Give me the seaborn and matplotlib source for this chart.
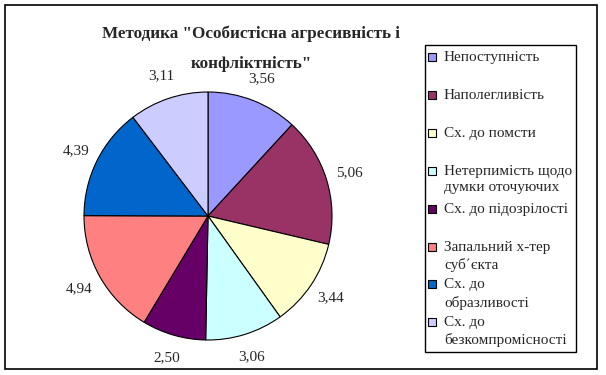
import matplotlib
matplotlib.use("Agg")
import matplotlib.pyplot as plt
import seaborn as sns
from matplotlib.patches import Rectangle

sns.set_style("white")
plt.rcParams['font.family'] = ['Liberation Serif', 'DejaVu Serif']

categories = ["Непоступність", "Наполегливість", "Сх. до помсти",
              "Нетерпимість щодо\nдумки оточуючих", "Сх. до підозрілості",
              "Запальний х-тер\nсуб΄єкта", "Сх. до\nобразливості",
              "Сх. до\nбезкомпромісності"]
values = [3.56, 5.06, 3.44, 3.06, 2.50, 4.94, 4.39, 3.11]
colors = ["#9999FF", "#993366", "#FFFFCC", "#CCFFFF",
          "#660066", "#FF8080", "#0066CC", "#CCCCFF"]
title_lines = ['Методика "Особистісна агресивність і', 'конфліктність"']

W, H = 606, 375
fig = plt.figure(figsize=(W / 100, H / 100), dpi=100)
fig.patch.set_facecolor("white")

# outer frame
fig.patches.append(Rectangle((5 / W, 1 - 369 / H), 592 / W, 364 / H,
                             transform=fig.transFigure, fill=False,
                             edgecolor="black", linewidth=1.2))

# title, one text per line
for j, line in enumerate(title_lines):
    fig.text(251 / W, 1 - (34 + j * 29.5) / H, line, ha="center", va="center",
             fontsize=12.3, fontweight="bold")

# pie
cx, cy, r = 208, 216, 124
ax = fig.add_axes([(cx - r) / W, 1 - (cy + r) / H, 2 * r / W, 2 * r / H])
labels = [f"{v:.2f}".replace(".", ",") for v in values]
wedges, texts = ax.pie(values, colors=colors, startangle=90, counterclock=False,
                       labels=labels, labeldistance=1.19,
                       wedgeprops=dict(edgecolor="black", linewidth=0.8),
                       textprops=dict(fontsize=11))
for t in texts:
    t.set_ha("center")
    t.set_va("center")
ax.set_xlim(-1, 1)
ax.set_ylim(-1, 1)
ax.set_aspect("auto")
ax.axis("off")

# legend box
lx0, ly0, lx1, ly1 = 425, 45, 576, 352
fig.patches.append(Rectangle((lx0 / W, 1 - ly1 / H), (lx1 - lx0) / W, (ly1 - ly0) / H,
                             transform=fig.transFigure, fill=False,
                             edgecolor="black", linewidth=1.0))
for i, (lab, c) in enumerate(zip(categories, colors)):
    y = 57 + i * 37.9
    fig.patches.append(Rectangle((428 / W, 1 - (y + 4) / H), 8 / W, 8 / H,
                                 transform=fig.transFigure, facecolor=c,
                                 edgecolor="black", linewidth=0.8))
    fig.text(444 / W, 1 - (y - 6) / H, lab, ha="left", va="top",
             fontsize=11, linespacing=1.38)

fig.savefig("out.png", dpi=100)
